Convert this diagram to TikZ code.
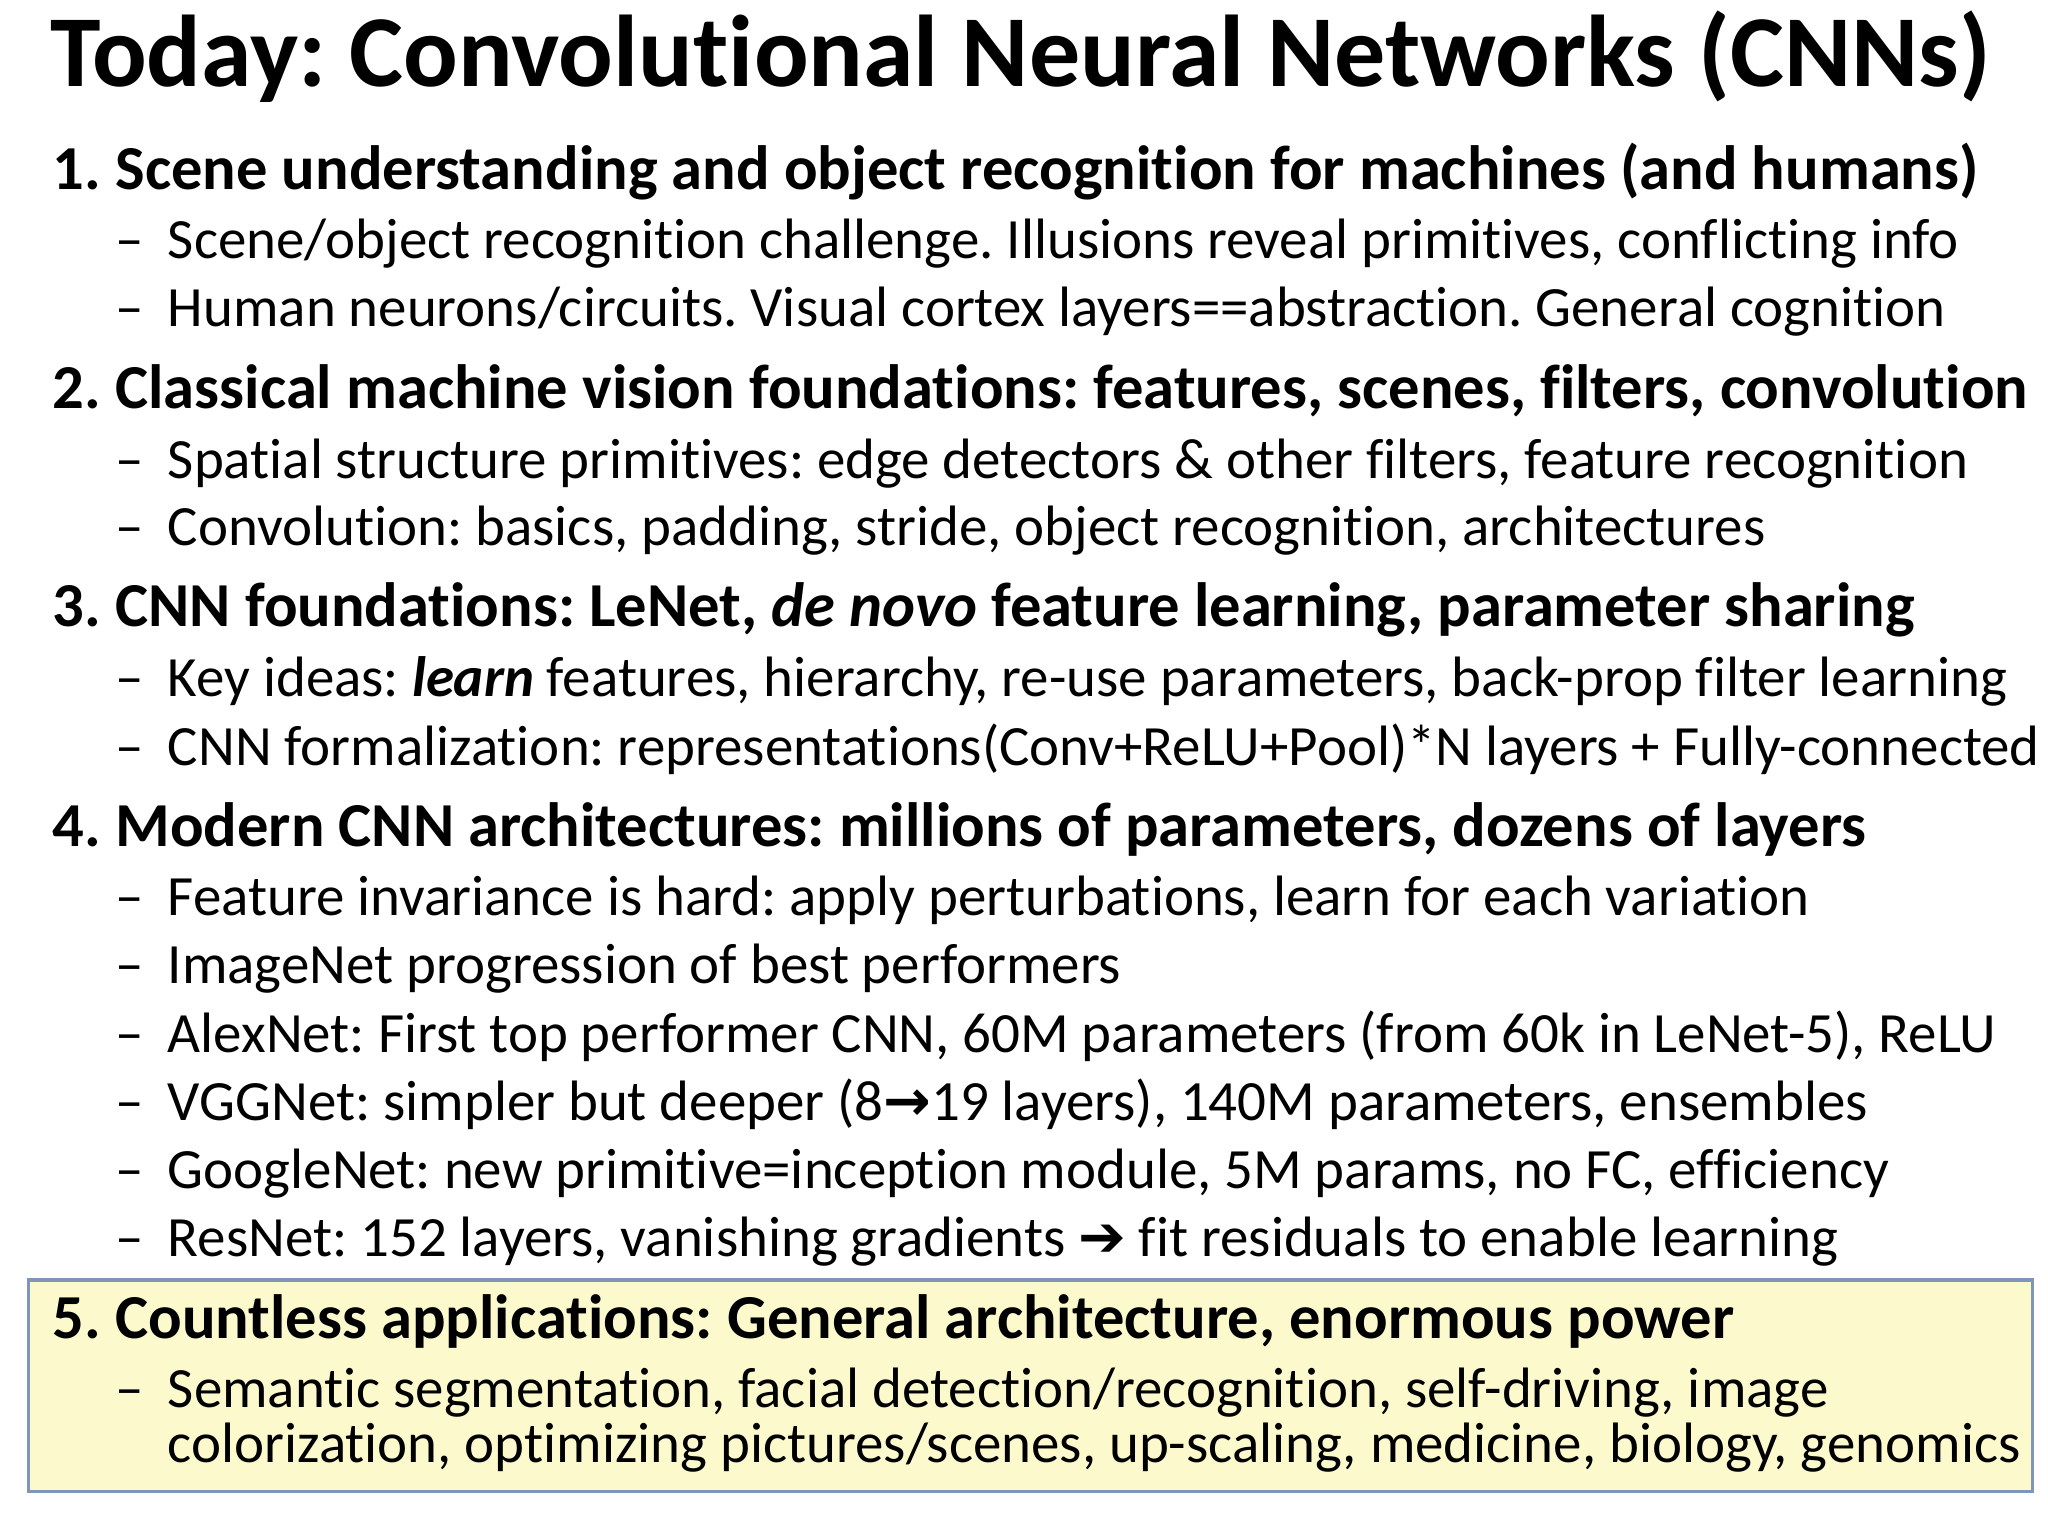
\documentclass[tikz,border=0pt]{standalone}
\usepackage{fontspec}
\setmainfont[Ligatures={NoCommon}]{Carlito}
\newfontfamily\symf{DejaVu Sans}
\definecolor{boxfill}{HTML}{FCF9CC}
\definecolor{boxline}{HTML}{8096B8}
\frenchspacing
\begin{document}
\begin{tikzpicture}[x=0.01306cm,y=-0.01306cm,
  head/.style={anchor=base west,inner sep=0pt,font=\fontsize{17.8}{19}\selectfont\bfseries},
  item/.style={anchor=base west,inner sep=0pt,font=\fontsize{16.2}{18}\selectfont},
  dsh/.style={anchor=base west,inner sep=0pt,font=\fontsize{16.2}{18}\selectfont}]
\useasboundingbox[fill=white] (0,0) rectangle (1568,1176);
\draw[boxline,fill=boxfill,line width=1pt] (22,980) rectangle (1556,1142);
\node[anchor=base west,inner sep=0pt,font=\fontsize{29}{31}\selectfont\bfseries] (title) at (38,66) {Today: Convolutional Neural Networks (CNNs)};
\node[head] (h1) at (40,145) {1. Scene understanding and object recognition for machines (and humans)};
\node[dsh] (d11) at (88,198) {–}; \node[item] (i11) at (128,198) {Scene/object recognition challenge. Illusions reveal primitives, conflicting info};
\node[dsh] (d12) at (88,250) {–}; \node[item] (i12) at (128,250) {Human neurons/circuits. Visual cortex layers==abstraction. General cognition};
\node[head] (h2) at (40,313) {2. Classical machine vision foundations: features, scenes, filters, convolution};
\node[dsh] (d21) at (88,366) {–}; \node[item] (i21) at (128,366) {Spatial structure primitives: edge detectors \& other filters, feature recognition};
\node[dsh] (d22) at (88,418) {–}; \node[item] (i22) at (128,418) {Convolution: basics, padding, stride, object recognition, architectures};
\node[head] (h3) at (40,480) {3. CNN foundations: LeNet, \textit{de novo} feature learning, parameter sharing};
\node[dsh] (d31) at (88,533) {–}; \node[item] (i31) at (128,533) {Key ideas: \textbf{\textit{learn}} features, hierarchy, re-use parameters, back-prop filter learning};
\node[dsh] (d32) at (88,586) {–}; \node[item] (i32) at (128,586) {CNN formalization: representations(Conv+ReLU+Pool)*N layers + Fully-connected};
\node[head] (h4) at (40,648) {4. Modern CNN architectures: millions of parameters, dozens of layers};
\node[dsh] (d41) at (88,701) {–}; \node[item] (i41) at (128,701) {Feature invariance is hard: apply perturbations, learn for each variation};
\node[dsh] (d42) at (88,753) {–}; \node[item] (i42) at (128,753) {ImageNet progression of best performers};
\node[dsh] (d43) at (88,806) {–}; \node[item] (i43) at (128,806) {AlexNet: First top performer CNN, 60M parameters (from 60k in LeNet-5), ReLU};
\node[dsh] (d44) at (88,858) {–}; \node[item] (i44) at (128,858) {VGGNet: simpler but deeper (8{\symf\bfseries →}19 layers), 140M parameters, ensembles};
\node[dsh] (d45) at (88,910) {–}; \node[item] (i45) at (128,910) {GoogleNet: new primitive=inception module, 5M params, no FC, efficiency};
\node[dsh] (d46) at (88,962) {–}; \node[item] (i46) at (128,962) {ResNet: 152 layers, vanishing gradients {\symf ➔} fit residuals to enable learning};
\node[head] (h5) at (40,1025) {5. Countless applications: General architecture, enormous power};
\node[dsh] (d51) at (88,1078) {–}; \node[item] (i51) at (128,1078) {Semantic segmentation, facial detection/recognition, self-driving, image};
\node[item] (i52) at (128,1120) {colorization, optimizing pictures/scenes, up-scaling, medicine, biology, genomics};
\end{tikzpicture}
\end{document}
